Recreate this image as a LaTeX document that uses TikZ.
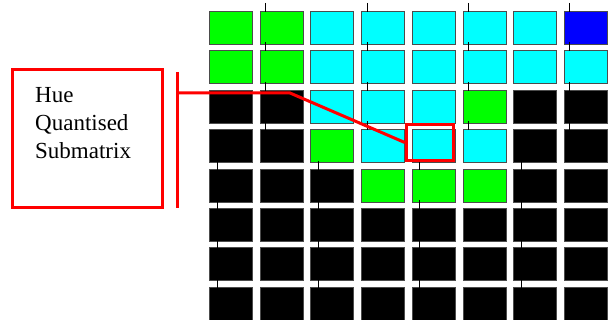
\documentclass[tikz,border=0pt]{standalone}
\usepackage{fontspec}
\setmainfont{Liberation Serif}
\definecolor{G}{RGB}{0,255,0}
\definecolor{C}{RGB}{0,255,255}
\definecolor{B}{RGB}{0,0,255}
\definecolor{K}{RGB}{0,0,0}
\definecolor{R}{RGB}{255,0,0}
\begin{document}
\begin{tikzpicture}[x=1pt,y=-1pt,
  cell/.style={draw=black!70, line width=0.8pt, minimum width=43pt, minimum height=33pt, inner sep=0pt, anchor=north west},
  tick/.style={draw=black, line width=1pt},
  redline/.style={draw=R, line width=3pt},
  lbltext/.style={font=\fontsize{23}{28}\selectfont, anchor=base west, inner sep=0pt}]
\useasboundingbox (0,0) rectangle (608,320);
\begin{scope}
\clip (0,0) rectangle (608,320);
\foreach \rowlist [count=\r from 0] in {{G,G,C,C,C,C,C,B},{G,G,C,C,C,C,C,C},{K,K,C,C,C,G,K,K},{K,K,G,C,C,C,K,K},{K,K,K,G,G,G,K,K},{K,K,K,K,K,K,K,K},{K,K,K,K,K,K,K,K},{K,K,K,K,K,K,K,K}}{
  \foreach \c [count=\k from 0] in \rowlist {
    \pgfmathsetmacro{\xx}{209+50.7*\k}
    \pgfmathsetmacro{\yy}{11+39.4*\r}
    \node[cell, fill=\c] (cell-\r-\k) at (\xx,\yy) {};
  }
}
% small ticks between rows
\foreach \r in {0,1,2,3}{
  \foreach \k in {1,3,5,7}{
    \pgfmathsetmacro{\xx}{209+50.7*\k+6}
    \pgfmathsetmacro{\yy}{11+39.4*\r}
    \draw[tick] (\xx,\yy-8) -- (\xx,\yy+1);
  }
}
\foreach \r in {4,5,6,7}{
  \foreach \k in {0,2,4,6}{
    \pgfmathsetmacro{\xx}{209+50.7*\k+8}
    \pgfmathsetmacro{\yy}{11+39.4*\r}
    \draw[tick] (\xx,\yy-8) -- (\xx,\yy+1);
  }
}
\end{scope}
% label box
\node[draw=R, line width=3pt, minimum width=150pt, minimum height=138pt, inner sep=0pt] (lbl) at (87,139) {};
\node[lbltext] (t1) at (35,103) {Hue};
\node[lbltext] (t2) at (35,131) {Quantised};
\node[lbltext] (t3) at (35,159) {Submatrix};
% selected cell
\node[draw=R, line width=3.5pt, minimum width=47pt, minimum height=36pt, inner sep=0pt] (sel) at (430,142.5) {};
% connector
\coordinate (bt) at (177,72);
\coordinate (bb) at (177,208);
\coordinate (jn) at (177,93);
\coordinate (bend) at (290,93);
\draw[redline] (bt) -- (bb);
\draw[redline] (jn) -- (bend) -- (sel.west);
\end{tikzpicture}
\end{document}
